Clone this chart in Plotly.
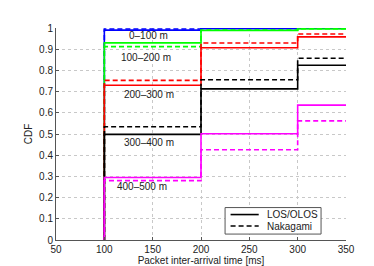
import plotly.graph_objects as go

# step locations (ms) and CDF values at each step
step_x = [100, 100, 200, 300, 350]
ranges = ["0–100 m", "100–200 m", "200–300 m", "300–400 m", "400–500 m"]
colors = ["#0000ff", "#00ff00", "#ff0000", "#000000", "#ff00ff"]

los = {
    "0–100 m":   [0, 0.990, 0.997, 0.999, 0.999],
    "100–200 m": [0, 0.930, 0.988, 0.995, 0.995],
    "200–300 m": [0, 0.730, 0.907, 0.958, 0.958],
    "300–400 m": [0, 0.498, 0.713, 0.824, 0.824],
    "400–500 m": [0, 0.295, 0.501, 0.636, 0.636],
}
nak = {
    "0–100 m":   [0, 0.995, 0.999, 1.000, 1.000],
    "100–200 m": [0, 0.912, 0.990, 0.997, 0.997],
    "200–300 m": [0, 0.753, 0.929, 0.972, 0.972],
    "300–400 m": [0, 0.534, 0.756, 0.857, 0.857],
    "400–500 m": [0, 0.280, 0.426, 0.562, 0.562],
}
label_x = [146, 143, 146, 146, 139]
label_y = [0.963, 0.86, 0.687, 0.458, 0.251]
legend_names = ["LOS/OLOS", "Nakagami"]
legend_dash = ["solid", "5px,3px"]

DASH = "5px,3px"

fig = go.Figure()
for r, c in zip(ranges, colors):
    fig.add_trace(go.Scatter(x=step_x, y=nak[r], mode="lines", line_shape="hv",
                             line=dict(color=c, width=1.6, dash=DASH), showlegend=False))
    fig.add_trace(go.Scatter(x=step_x, y=los[r], mode="lines", line_shape="hv",
                             line=dict(color=c, width=1.6), showlegend=False))

for r, lx, ly in zip(ranges, label_x, label_y):
    fig.add_annotation(x=lx, y=ly, text=r, showarrow=False,
                       font=dict(size=10, color="#222"))

# compact legend box drawn in paper coordinates
fig.add_shape(type="rect", xref="paper", yref="paper", x0=0.583, x1=0.914,
              y0=0.028, y1=0.153, line=dict(color="#555", width=1),
              fillcolor="white", layer="above")
for i, (name, dash) in enumerate(zip(legend_names, legend_dash)):
    yy = 0.120 - i * 0.054
    fig.add_shape(type="line", xref="paper", yref="paper", x0=0.602, x1=0.699,
                  y0=yy, y1=yy, line=dict(color="black", width=1.6, dash=dash),
                  layer="above")
    fig.add_annotation(xref="paper", yref="paper", x=0.72, y=yy, text=name,
                       xanchor="left", yanchor="middle", showarrow=False,
                       font=dict(size=10, color="#222"))

fig.update_layout(
    width=374, height=266,
    margin=dict(l=48, r=36, t=20, b=30),
    paper_bgcolor="white", plot_bgcolor="white",
    font=dict(family="Liberation Sans, Arial, sans-serif", size=10, color="#222"),
    showlegend=False,
)
fig.update_xaxes(range=[50, 350], dtick=50, showgrid=True, gridcolor="#c8c8c8",
                 griddash="dot", gridwidth=1, showline=True, linecolor="#555",
                 ticks="inside", ticklen=3, tickcolor="#555", zeroline=False,
                 title=dict(text="Packet inter-arrival time [ms]", standoff=0,
                            font=dict(size=10)))
fig.update_yaxes(range=[0, 1], dtick=0.1, showgrid=True, gridcolor="#c8c8c8",
                 griddash="dot", gridwidth=1, showline=True, linecolor="#555",
                 ticks="inside", ticklen=3, tickcolor="#555", zeroline=False,
                 title=dict(text="CDF", standoff=4, font=dict(size=10)))

fig.write_html("out.html")
